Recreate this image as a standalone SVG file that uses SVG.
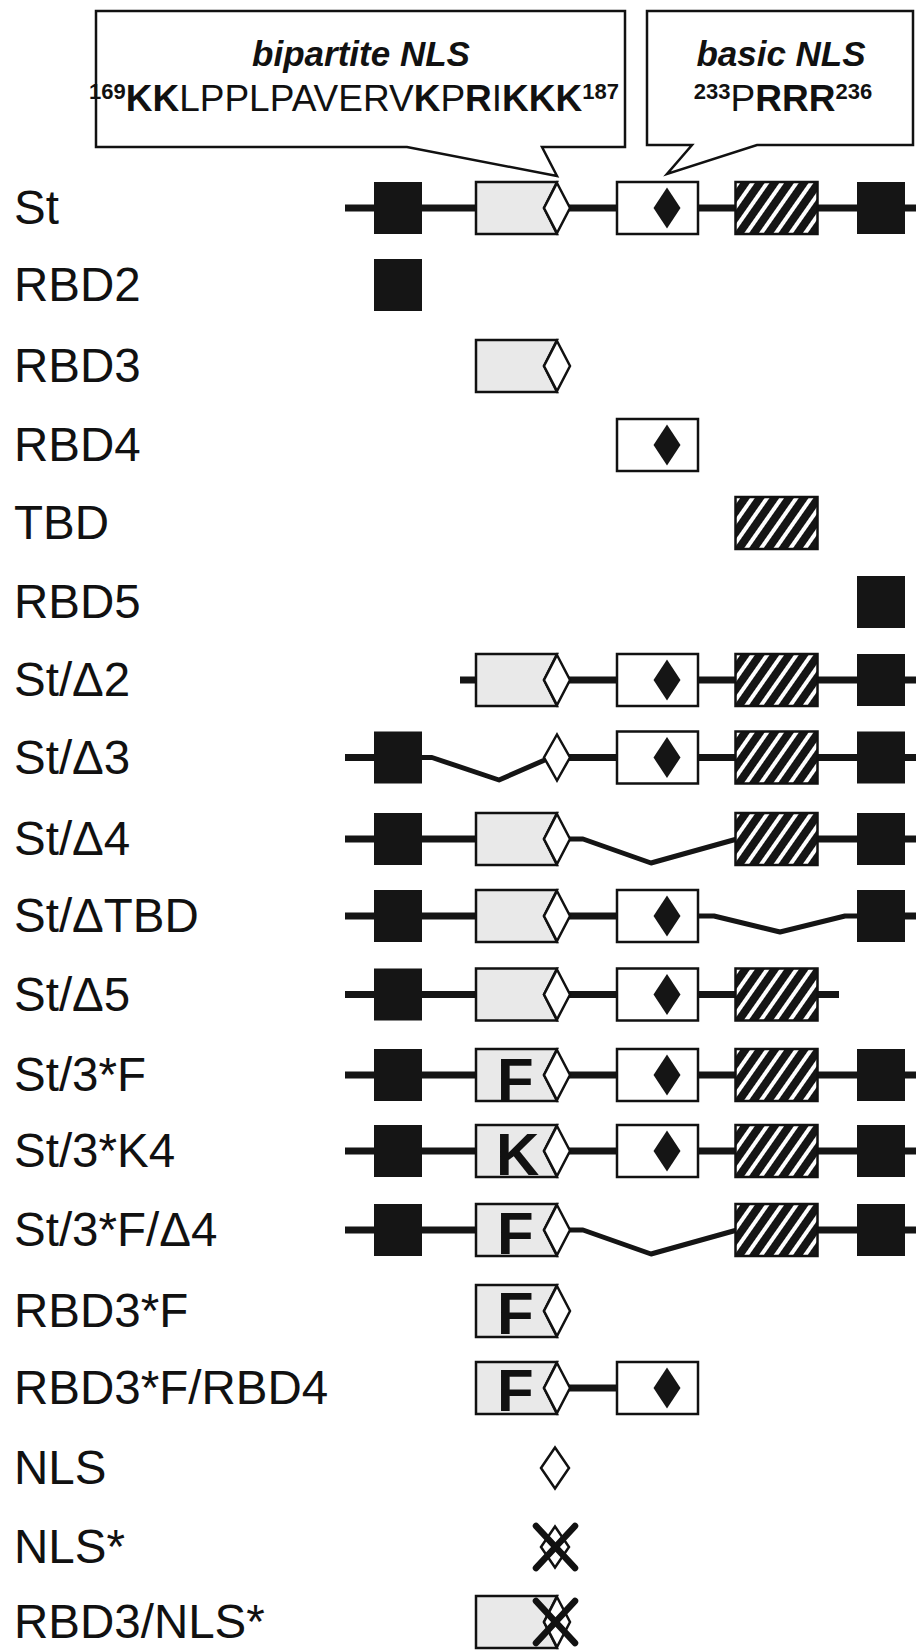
<svg xmlns="http://www.w3.org/2000/svg" xmlns:xlink="http://www.w3.org/1999/xlink" width="916" height="1650" viewBox="0 0 916 1650">
<style>
text{font-family:"Liberation Sans",Arial,sans-serif;fill:#111}
.lbl{font-size:47.5px}
.co{font-size:37px}
.coh{font-size:35px;font-weight:bold;font-style:italic}
.b{font-weight:bold}
.sup{font-size:22px;font-weight:bold}
.mut{font-size:60px;font-weight:bold}
.bb{stroke:#151515;stroke-width:7;fill:none}
.del{stroke:#151515;stroke-width:5;fill:none;stroke-linejoin:round}
.ed{stroke:#111;stroke-width:2.5}
.x{stroke:#111;stroke-width:6.5;stroke-linecap:round}
</style>
<defs>
<pattern id="hatch" width="12" height="12" patternUnits="userSpaceOnUse" patternTransform="rotate(35)">
<rect width="12" height="12" fill="#151515"/>
<rect width="4" height="12" fill="#fff"/>
</pattern>
<rect id="sq2" x="374" y="-26" width="48" height="52" fill="#151515"/>
<g id="rbd3">
<polygon class="ed" points="476,-26 557,-26 544,0 557,26 476,26" fill="#e9e9e9"/>
<polygon class="ed" points="557,-25 570,0 557,25 544,0" fill="#fff"/>
</g>
<g id="rbd4">
<rect class="ed" x="617" y="-26" width="81" height="52" fill="#fff"/>
<polygon points="667,-20.5 680.5,0 667,20.5 653.5,0" fill="#151515"/>
</g>
<rect id="tbd" class="ed" x="735.5" y="-26" width="82" height="52" fill="url(#hatch)"/>
<rect id="sq5" x="857" y="-26" width="48" height="52" fill="#151515"/>
<polygon id="nls" class="ed" points="555,-20.5 569,0 555,20.5 541,0" fill="#fff"/>
<g id="cross">
<line class="x" x1="536" y1="-21" x2="575" y2="21"/>
<line class="x" x1="575" y1="-21" x2="536" y2="21"/>
</g>
</defs>

<g id="callout-bipartite">
<polygon class="ed" points="96,11 625,11 625,147 542,147 557,176 407,147 96,147" fill="#fff"/>
<text class="coh" x="361" y="66" text-anchor="middle">bipartite NLS</text>
<text class="co" x="354" y="111" text-anchor="middle"><tspan class="sup" dy="-12">169</tspan><tspan class="b" dy="12">KK</tspan>LPPLPAVERV<tspan class="b">K</tspan>P<tspan class="b">R</tspan>I<tspan class="b">KKK</tspan><tspan class="sup" dy="-12">187</tspan></text>
</g>
<g id="callout-basic">
<polygon class="ed" points="647,11 913,11 913,145 757,145 667,174 692,145 647,145" fill="#fff"/>
<text class="coh" x="781" y="66" text-anchor="middle">basic NLS</text>
<text class="co" x="783" y="111" text-anchor="middle"><tspan class="sup" dy="-12">233</tspan><tspan dy="12">P</tspan><tspan class="b">RRR</tspan><tspan class="sup" dy="-12">236</tspan></text>
</g>

<g id="connectors">
<line class="bb" x1="345" y1="208" x2="916" y2="208"/>
<line class="bb" x1="460" y1="680" x2="916" y2="680"/>
<line class="bb" x1="345" y1="757.5" x2="422" y2="757.5"/>
<polyline class="del" points="422,757.5 432,757.5 499,780 547,759"/>
<line class="bb" x1="565" y1="757.5" x2="916" y2="757.5"/>
<line class="bb" x1="345" y1="839" x2="560" y2="839"/>
<polyline class="del" points="568,839 583,839 651,863 737,839"/>
<line class="bb" x1="735" y1="839" x2="916" y2="839"/>
<line class="bb" x1="345" y1="916" x2="698" y2="916"/>
<polyline class="del" points="697,916 714,916 780,932 845,916 858,916"/>
<line class="bb" x1="857" y1="916" x2="916" y2="916"/>
<line class="bb" x1="345" y1="994.5" x2="839" y2="994.5"/>
<line class="bb" x1="345" y1="1075" x2="916" y2="1075"/>
<line class="bb" x1="345" y1="1151" x2="916" y2="1151"/>
<line class="bb" x1="345" y1="1230" x2="560" y2="1230"/>
<polyline class="del" points="568,1230 583,1230 651,1254 737,1230"/>
<line class="bb" x1="735" y1="1230" x2="916" y2="1230"/>
<line class="bb" x1="565" y1="1388" x2="617" y2="1388"/>
</g>

<g id="row-St" transform="translate(0,208)">
<text class="lbl" x="14" y="16">St</text>
<use xlink:href="#sq2"/><use xlink:href="#rbd3"/><use xlink:href="#rbd4"/><use xlink:href="#tbd"/><use xlink:href="#sq5"/>
</g>
<g id="row-RBD2" transform="translate(0,285)">
<text class="lbl" x="14" y="16">RBD2</text>
<use xlink:href="#sq2"/>
</g>
<g id="row-RBD3" transform="translate(0,366)">
<text class="lbl" x="14" y="16">RBD3</text>
<use xlink:href="#rbd3"/>
</g>
<g id="row-RBD4" transform="translate(0,445)">
<text class="lbl" x="14" y="16">RBD4</text>
<use xlink:href="#rbd4"/>
</g>
<g id="row-TBD" transform="translate(0,523)">
<text class="lbl" x="14" y="16">TBD</text>
<use xlink:href="#tbd"/>
</g>
<g id="row-RBD5" transform="translate(0,602)">
<text class="lbl" x="14" y="16">RBD5</text>
<use xlink:href="#sq5"/>
</g>
<g id="row-St-d2" transform="translate(0,680)">
<text class="lbl" x="14" y="16">St/Δ2</text>
<use xlink:href="#rbd3"/><use xlink:href="#rbd4"/><use xlink:href="#tbd"/><use xlink:href="#sq5"/>
</g>
<g id="row-St-d3" transform="translate(0,757.5)">
<text class="lbl" x="14" y="16">St/Δ3</text>
<use xlink:href="#sq2"/>
<polygon class="ed" points="557,-23 570,0 557,23 544,0" fill="#fff"/>
<use xlink:href="#rbd4"/><use xlink:href="#tbd"/><use xlink:href="#sq5"/>
</g>
<g id="row-St-d4" transform="translate(0,839)">
<text class="lbl" x="14" y="16">St/Δ4</text>
<use xlink:href="#sq2"/><use xlink:href="#rbd3"/><use xlink:href="#tbd"/><use xlink:href="#sq5"/>
</g>
<g id="row-St-dTBD" transform="translate(0,916)">
<text class="lbl" x="14" y="16">St/ΔTBD</text>
<use xlink:href="#sq2"/><use xlink:href="#rbd3"/><use xlink:href="#rbd4"/><use xlink:href="#sq5"/>
</g>
<g id="row-St-d5" transform="translate(0,994.5)">
<text class="lbl" x="14" y="16">St/Δ5</text>
<use xlink:href="#sq2"/><use xlink:href="#rbd3"/><use xlink:href="#rbd4"/><use xlink:href="#tbd"/>
</g>
<g id="row-St-3F" transform="translate(0,1075)">
<text class="lbl" x="14" y="16">St/3*F</text>
<use xlink:href="#sq2"/><use xlink:href="#rbd3"/>
<text class="mut" x="497" y="25">F</text>
<use xlink:href="#rbd4"/><use xlink:href="#tbd"/><use xlink:href="#sq5"/>
</g>
<g id="row-St-3K4" transform="translate(0,1151)">
<text class="lbl" x="14" y="16">St/3*K4</text>
<use xlink:href="#sq2"/><use xlink:href="#rbd3"/>
<text class="mut" x="496" y="24">K</text>
<use xlink:href="#rbd4"/><use xlink:href="#tbd"/><use xlink:href="#sq5"/>
</g>
<g id="row-St-3F-d4" transform="translate(0,1230)">
<text class="lbl" x="14" y="16">St/3*F/Δ4</text>
<use xlink:href="#sq2"/><use xlink:href="#rbd3"/>
<text class="mut" x="497" y="24">F</text>
<use xlink:href="#tbd"/><use xlink:href="#sq5"/>
</g>
<g id="row-RBD3F" transform="translate(0,1311)">
<text class="lbl" x="14" y="16">RBD3*F</text>
<use xlink:href="#rbd3"/>
<text class="mut" x="497" y="23">F</text>
</g>
<g id="row-RBD3F-RBD4" transform="translate(0,1388)">
<text class="lbl" x="14" y="16">RBD3*F/RBD4</text>
<use xlink:href="#rbd3"/>
<text class="mut" x="497" y="23">F</text>
<use xlink:href="#rbd4"/>
</g>
<g id="row-NLS" transform="translate(0,1468)">
<text class="lbl" x="14" y="16">NLS</text>
<use xlink:href="#nls"/>
</g>
<g id="row-NLSm" transform="translate(0,1547)">
<text class="lbl" x="14" y="16">NLS*</text>
<use xlink:href="#nls"/><use xlink:href="#cross"/>
</g>
<g id="row-RBD3-NLSm" transform="translate(0,1622)">
<text class="lbl" x="14" y="16">RBD3/NLS*</text>
<use xlink:href="#rbd3"/><use xlink:href="#cross"/>
</g>
</svg>
